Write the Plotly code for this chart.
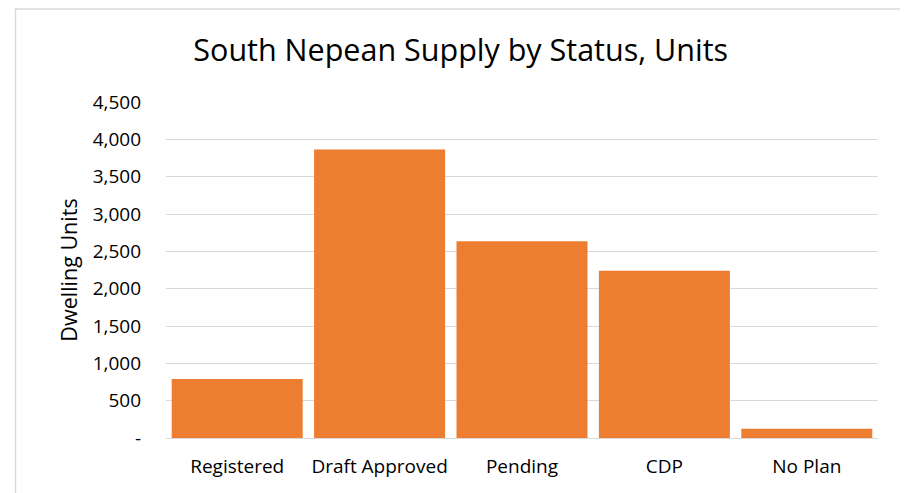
import plotly.graph_objects as go

statuses = ["Registered", "Draft Approved", "Pending", "CDP", "No Plan"]
units = [790, 3865, 2635, 2240, 125]

tick_vals = [0, 500, 1000, 1500, 2000, 2500, 3000, 3500, 4000, 4500]
tick_text = ["-", "500", "1,000", "1,500", "2,000", "2,500", "3,000", "3,500", "4,000", "4,500"]

# page has an 8px body margin, so the figure is 8px smaller than the window
W, H = 900, 485
L, R, T, B = 158, 30, 94, 55
FONT = "Open Sans"


def px_x(p):
    return (p - L) / (W - L - R)


def px_y(p):
    return 1 - (p - T) / (H - T - B)


fig = go.Figure(go.Bar(
    x=statuses,
    y=units,
    marker=dict(color="#ED7D31", line=dict(width=0)),
))

fig.update_layout(
    width=W,
    height=H,
    margin=dict(l=L, r=R, t=T, b=B),
    paper_bgcolor="white",
    plot_bgcolor="white",
    bargap=0.08,
    showlegend=False,
    title=dict(
        text="South Nepean Supply by Status, Units",
        x=0.503, xanchor="center", y=0.912, yanchor="middle",
        font=dict(family=FONT, size=30.5, color="#000000"),
    ),
    font=dict(family=FONT, size=19, color="#000000"),
    shapes=[
        # chart frame
        dict(type="rect", xref="paper", yref="paper",
             x0=px_x(7.5), x1=px_x(897), y0=px_y(520), y1=px_y(1),
             line=dict(color="#D9D9D9", width=1.5), layer="below"),
    ],
)

fig.update_yaxes(
    range=[0, 4500],
    tickvals=tick_vals,
    ticktext=tick_text,
    showgrid=True,
    gridcolor="#D9D9D9",
    gridwidth=1,
    zeroline=False,
    showline=False,
    ticks="",
    ticklabelstandoff=24,
    title=dict(text="Dwelling Units", font=dict(size=21.5), standoff=9),
)

fig.update_xaxes(
    showline=True,
    linecolor="#D9D9D9",
    linewidth=1,
    ticks="",
    showgrid=False,
    ticklabelstandoff=11,
    tickfont=dict(size=19),
)

fig.write_html("out.html")
